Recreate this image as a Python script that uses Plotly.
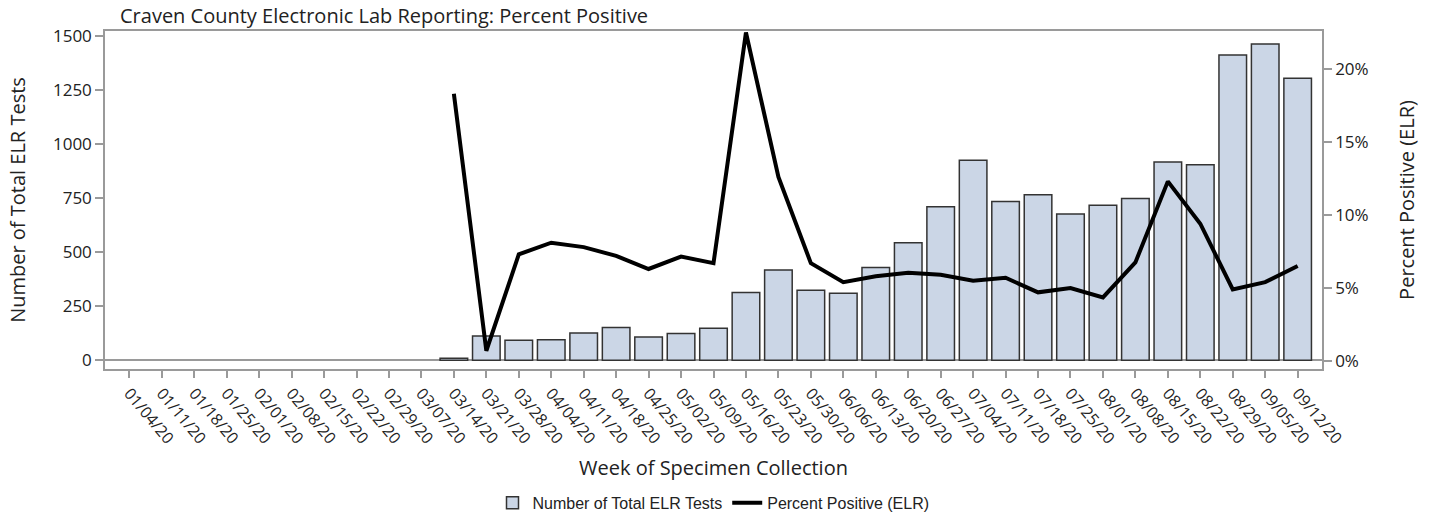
import plotly.graph_objects as go

weeks = ["01/04/20", "01/11/20", "01/18/20", "01/25/20", "02/01/20", "02/08/20", "02/15/20",
         "02/22/20", "02/29/20", "03/07/20", "03/14/20", "03/21/20", "03/28/20", "04/04/20",
         "04/11/20", "04/18/20", "04/25/20", "05/02/20", "05/09/20", "05/16/20", "05/23/20",
         "05/30/20", "06/06/20", "06/13/20", "06/20/20", "06/27/20", "07/04/20", "07/11/20",
         "07/18/20", "07/25/20", "08/01/20", "08/08/20", "08/15/20", "08/22/20", "08/29/20",
         "09/05/20", "09/12/20"]

total_tests = [None, None, None, None, None, None, None, None, None, None,
               10, 113, 93, 96, 127, 152, 108, 124, 149, 314, 418,
               325, 311, 430, 544, 711, 927, 736, 767, 678, 718, 750,
               918, 906, 1414, 1465, 1306]

pct_positive = [None, None, None, None, None, None, None, None, None, None,
                18.3, 0.7, 7.3, 8.1, 7.8, 7.2, 6.3, 7.15, 6.7, 22.5, 12.6,
                6.7, 5.4, 5.8, 6.05, 5.9, 5.5, 5.7, 4.7, 5.0, 4.35, 6.75,
                12.3, 9.4, 4.9, 5.4, 6.5]

pct_ticks = [0, 5, 10, 15, 20]
pct_tick_text = ["0%", "5%", "10%", "15%", "20%"]
count_ticks = [0, 250, 500, 750, 1000, 1250, 1500]

font_main = "Open Sans"
axis_col = "#9a9a9a"
text_col = "#222222"

fig = go.Figure()
fig.add_trace(go.Bar(
    x=weeks, y=total_tests, name="Number of Total ELR Tests",
    marker=dict(color="#cbd6e6", line=dict(color="#333333", width=1.5)),
    yaxis="y",
))
fig.add_trace(go.Scatter(
    x=weeks, y=pct_positive, name="Percent Positive (ELR)",
    mode="lines", line=dict(color="#000000", width=4),
    yaxis="y2", connectgaps=False,
))

fig.update_layout(
    width=1431, height=516,
    margin=dict(l=105, r=109, t=31, b=147, autoexpand=False),
    paper_bgcolor="white", plot_bgcolor="white",
    bargap=0.15,
    font=dict(family=font_main, size=16, color=text_col),
    title=dict(text="Craven County Electronic Lab Reporting: Percent Positive",
               x=120 / 1431, xanchor="left", y=1 - 16 / 516, yanchor="middle",
               font=dict(family=font_main, size=20, color=text_col)),
    xaxis=dict(
        type="category", range=[-0.75, 36.75],
        tickangle=50, tickfont=dict(family=font_main, size=16, color=text_col),
        showline=True, linecolor=axis_col, linewidth=1.5, mirror=True,
        ticks="outside", ticklen=7, tickcolor=axis_col, tickwidth=1.5,
        showgrid=False, automargin=False,
        title=dict(text="Week of Specimen Collection", standoff=14,
                   font=dict(family=font_main, size=20, color=text_col)),
    ),
    yaxis=dict(
        range=[-40, 1525], tickvals=count_ticks,
        tickfont=dict(family=font_main, size=17, color=text_col),
        showline=True, linecolor=axis_col, linewidth=1.5, mirror=True,
        ticks="outside", ticklen=8, tickcolor=axis_col, tickwidth=1.5,
        showgrid=False, zeroline=True, zerolinecolor=axis_col, zerolinewidth=1.5,
        automargin=False,
        title=dict(text="Number of Total ELR Tests", standoff=22,
                   font=dict(family=font_main, size=20, color=text_col)),
    ),
    yaxis2=dict(
        overlaying="y", side="right",
        range=[-0.55, 22.6], tickvals=pct_ticks, ticktext=pct_tick_text,
        tickfont=dict(family=font_main, size=17, color=text_col),
        showline=True, linecolor=axis_col, linewidth=1.5,
        ticks="outside", ticklen=8, tickcolor=axis_col, tickwidth=1.5,
        showgrid=False, zeroline=False, automargin=False,
        title=dict(text="Percent Positive (ELR)", standoff=32,
                   font=dict(family=font_main, size=20, color=text_col)),
    ),
    legend=dict(orientation="h", x=0.5, xanchor="center", y=-0.396, yanchor="middle",
                font=dict(family="Liberation Sans", size=16, color=text_col),
                itemwidth=30, tracegroupgap=0),
    showlegend=True,
)

fig.write_html("out.html", config={"displayModeBar": False},
               post_script="document.body.style.margin='0';")
